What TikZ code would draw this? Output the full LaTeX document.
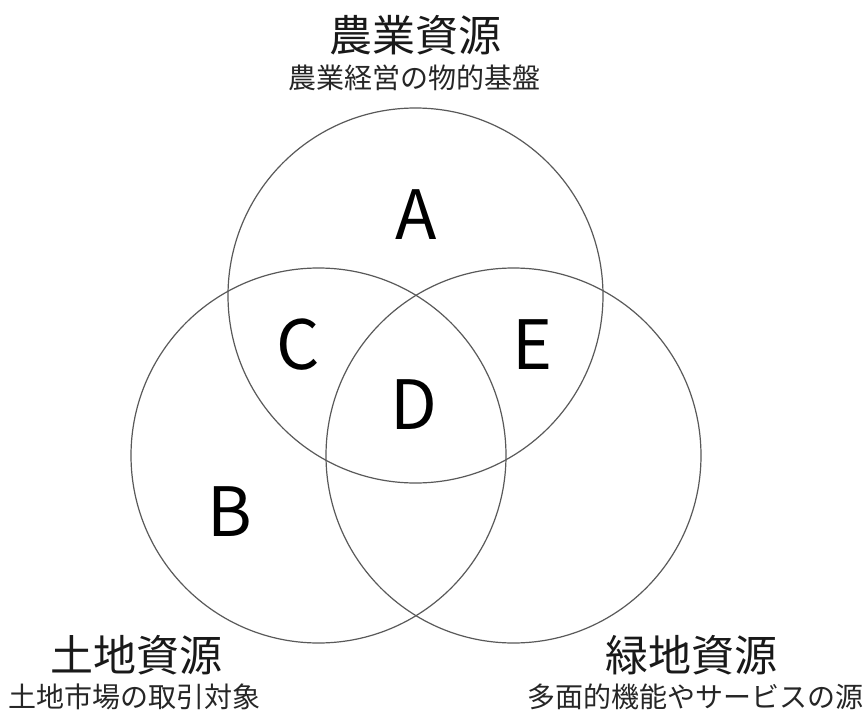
\documentclass[tikz,border=0pt]{standalone}
\usepackage{fontspec}
\setmainfont{Noto Sans CJK JP}
\begin{document}
\begin{tikzpicture}[x=1pt,y=-1pt,
  ring/.style={draw=black!65,line width=1.2pt},
  title/.style={inner sep=0pt,anchor=center,font=\fontsize{43}{43}\selectfont,text=black!90},
  sub/.style={inner sep=0pt,anchor=center,font=\fontsize{28}{28}\selectfont,text=black!85},
  region/.style={inner sep=0pt,anchor=center,font=\fontsize{68}{68}\selectfont}]
\useasboundingbox (0,0) rectangle (867,717);
\fill[white] (0,0) rectangle (867,717);
\coordinate (ctop) at (415.5,295.5);
\coordinate (cleft) at (318.5,455.5);
\coordinate (cright) at (513.5,455.5);
\draw[ring] (ctop) circle[radius=187.5];
\draw[ring] (cleft) circle[radius=187.5];
\draw[ring] (cright) circle[radius=187.5];
\node[title] (t1) at (415,35) {農業資源};
\node[sub] (s1) at (414,78) {農業経営の物的基盤};
\node[title] (t2) at (136,655) {土地資源};
\node[sub] (s2) at (135,697) {土地市場の取引対象};
\node[title] (t3) at (691,655) {緑地資源};
\node[sub] (s3) at (695,697) {多面的機能やサービスの源};
\node[region] (A) at (416,215) {A};
\node[region] (B) at (230,512) {B};
\node[region] (C) at (298,345) {C};
\node[region] (D) at (414,405) {D};
\node[region] (E) at (533,345) {E};
\end{tikzpicture}
\end{document}
